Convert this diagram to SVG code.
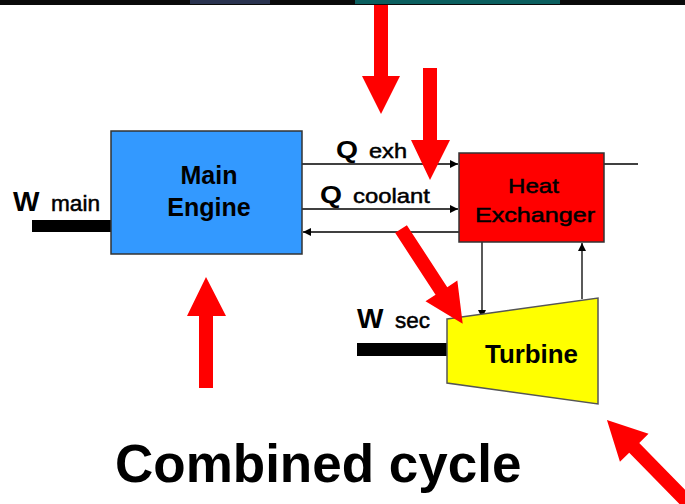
<svg xmlns="http://www.w3.org/2000/svg" width="685" height="504" viewBox="0 0 685 504">
<style>
text{font-family:"Liberation Sans",Arial,sans-serif;fill:#000}
.b{font-weight:bold}
.r{stroke:#000;stroke-width:0.5}
.ln{stroke:#000;stroke-width:1.3;fill:none}
.red{fill:#ff0000}
</style>
<defs>
<marker id="ah" viewBox="0 0 10 10" refX="10" refY="5" markerWidth="8" markerHeight="8" markerUnits="userSpaceOnUse" orient="auto">
<path d="M0,0 L10,5 L0,10 z" fill="#000"/>
</marker>
</defs>
<rect width="685" height="504" fill="#fff"/>
<rect x="0" y="0" width="685" height="5" fill="#0a0a0a"/>
<rect x="190" y="0" width="80" height="4" fill="#2a3350"/>
<rect x="355" y="0" width="205" height="4" fill="#0b5f5f"/>

<g id="connectors">
<line class="ln" x1="302" y1="164" x2="458" y2="164" marker-end="url(#ah)"/>
<line class="ln" x1="302" y1="209" x2="458" y2="209" marker-end="url(#ah)"/>
<line class="ln" x1="459" y1="232" x2="303" y2="232" marker-end="url(#ah)"/>
<line class="ln" x1="604" y1="164" x2="638" y2="164"/>
<line class="ln" x1="482" y1="242" x2="482" y2="318" marker-end="url(#ah)"/>
<line class="ln" x1="582" y1="299" x2="582" y2="243" marker-end="url(#ah)"/>
<rect x="32" y="220" width="79" height="12" fill="#000"/>
<rect x="357" y="343" width="90" height="13" fill="#000"/>
</g>

<g id="main-engine">
<rect x="111" y="131" width="191" height="123" fill="#3399ff" stroke="#333" stroke-width="1.5"/>
<text class="b" x="209" y="184" font-size="25" text-anchor="middle">Main</text>
<text class="b" x="209" y="216" font-size="25" text-anchor="middle">Engine</text>
</g>

<g id="heat-exchanger">
<rect x="459" y="153" width="145" height="89" fill="#ff0000" stroke="#333" stroke-width="1.5"/>
<text class="r" x="508" y="193" font-size="21" textLength="51" lengthAdjust="spacingAndGlyphs">Heat</text>
<text class="r" x="475" y="222" font-size="21" textLength="120" lengthAdjust="spacingAndGlyphs">Exchanger</text>
</g>

<g id="turbine">
<polygon points="447,319 598,298 598,404 447,383" fill="#ffff00" stroke="#555" stroke-width="1.5"/>
<text class="b" x="485" y="363" font-size="25" textLength="93" lengthAdjust="spacingAndGlyphs">Turbine</text>
</g>

<g id="labels">
<text class="b" x="13" y="211" font-size="28">W</text>
<text class="r" x="51" y="211" font-size="22" textLength="49" lengthAdjust="spacingAndGlyphs">main</text>
<text class="b" x="357" y="328" font-size="28">W</text>
<text class="r" x="395" y="328" font-size="22" textLength="35" lengthAdjust="spacingAndGlyphs">sec</text>
<text class="b" x="336" y="158" font-size="23" textLength="22" lengthAdjust="spacingAndGlyphs">Q</text>
<text class="r" x="369" y="158" font-size="21" textLength="38" lengthAdjust="spacingAndGlyphs">exh</text>
<text class="b" x="320" y="203" font-size="23" textLength="22" lengthAdjust="spacingAndGlyphs">Q</text>
<text class="r" x="353" y="203" font-size="21" textLength="77" lengthAdjust="spacingAndGlyphs">coolant</text>
</g>

<g id="red-arrows">
<polygon class="red" points="374,5 388,5 388,76 400,76 381,114 362,76 374,76"/>
<polygon class="red" points="423,68 437,68 437,140 450,140 430,180 411,140 423,140"/>
<polygon class="red" points="199,388 213,388 213,316 226,316 206,277 187,316 199,316"/>
<polygon class="red" transform="translate(401,229) rotate(56.9)" points="0,-7 74,-7 74,-19 113,0 74,19 74,7 0,7"/>
<polygon class="red" transform="translate(700,515) rotate(225.6)" points="0,-7 94,-7 94,-20 133,0 94,20 94,7 0,7"/>
</g>

<g id="title">
<text class="b" x="115" y="482" font-size="53">Combined cycle</text>
</g>
</svg>
